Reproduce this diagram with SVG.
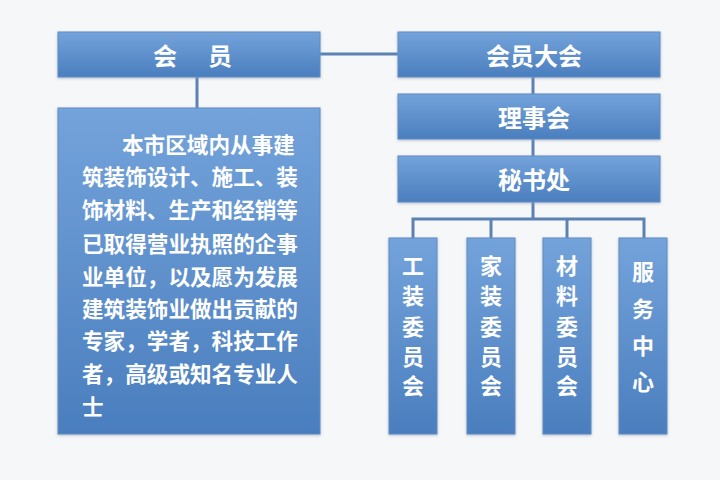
<svg xmlns="http://www.w3.org/2000/svg" width="720" height="480" viewBox="0 0 720 480">
<defs>
<linearGradient id="g" x1="0" y1="0" x2="0" y2="1">
<stop offset="0" stop-color="#74a3db"/>
<stop offset="1" stop-color="#4a7ebe"/>
</linearGradient>
<filter id="sh" x="-10%" y="-10%" width="120%" height="120%">
<feGaussianBlur in="SourceAlpha" stdDeviation="1.5"/>
<feOffset dx="0" dy="1" result="b"/>
<feFlood flood-color="#8a9ab0" flood-opacity="0.6"/>
<feComposite in2="b" operator="in"/>
<feMerge><feMergeNode/><feMergeNode in="SourceGraphic"/></feMerge>
</filter>
</defs>
<style>
.box{fill:url(#g);stroke:#5f8cc4;stroke-width:1;filter:url(#sh)}
.t{font-family:"Noto Sans CJK SC","Noto Sans CJK JP",sans-serif;font-weight:bold;fill:#ffffff;text-anchor:middle;dominant-baseline:central}
.h{font-size:24px}
.v{font-size:22px}
.d{font-family:"Noto Sans CJK SC","Noto Sans CJK JP",sans-serif;font-weight:bold;fill:#ffffff;font-size:21.6px;dominant-baseline:central}
.c{stroke:#5b82b3;stroke-width:3;fill:none}
</style>
<rect width="720" height="480" fill="#f6f7f9"/>
<g id="connectors">
<line class="c" x1="320" y1="54" x2="398" y2="54"/>
<line class="c" x1="197" y1="77" x2="197" y2="108"/>
<line class="c" x1="533" y1="77" x2="533" y2="94"/>
<line class="c" x1="533" y1="139" x2="533" y2="156"/>
<line class="c" x1="533" y1="202" x2="533" y2="219"/>
<polyline class="c" points="413,238 413,219 644,219 644,238"/>
<line class="c" x1="491" y1="219" x2="491" y2="238"/>
<line class="c" x1="567" y1="219" x2="567" y2="238"/>
</g>
<g id="member">
<rect class="box" x="58" y="32" width="262" height="45"/>
<text class="t h" x="165" y="54">会</text>
<text class="t h" x="220" y="54">员</text>
</g>
<g id="member-desc">
<rect class="box" x="58" y="108" width="262" height="326"/>
<text class="d" x="122" y="143">本市区域内从事建</text>
<text class="d" x="82" y="175">筑装饰设计、施工、装</text>
<text class="d" x="82" y="208">饰材料、生产和经销等</text>
<text class="d" x="82" y="242">已取得营业执照的企事</text>
<text class="d" x="82" y="275">业单位，以及愿为发展</text>
<text class="d" x="82" y="307">建筑装饰业做出贡献的</text>
<text class="d" x="82" y="339">专家，学者，科技工作</text>
<text class="d" x="82" y="372">者，高级或知名专业人</text>
<text class="d" x="82" y="405">士</text>
</g>
<g id="assembly">
<rect class="box" x="398" y="32" width="262" height="45"/>
<text class="t h" x="534" y="54">会员大会</text>
</g>
<g id="council">
<rect class="box" x="398" y="94" width="262" height="45"/>
<text class="t h" x="534" y="116">理事会</text>
</g>
<g id="secretariat">
<rect class="box" x="398" y="156" width="262" height="46"/>
<text class="t h" x="534" y="178">秘书处</text>
</g>
<g id="gongzhuang">
<rect class="box" x="389" y="238" width="48" height="196"/>
<text class="t v"><tspan x="413" y="264">工</tspan><tspan x="413" y="294">装</tspan><tspan x="413" y="325">委</tspan><tspan x="413" y="355">员</tspan><tspan x="413" y="384">会</tspan></text>
</g>
<g id="jiazhuang">
<rect class="box" x="467" y="238" width="48" height="196"/>
<text class="t v"><tspan x="491" y="264">家</tspan><tspan x="491" y="294">装</tspan><tspan x="491" y="325">委</tspan><tspan x="491" y="355">员</tspan><tspan x="491" y="384">会</tspan></text>
</g>
<g id="cailiao">
<rect class="box" x="543" y="238" width="48" height="196"/>
<text class="t v"><tspan x="567" y="264">材</tspan><tspan x="567" y="294">料</tspan><tspan x="567" y="325">委</tspan><tspan x="567" y="355">员</tspan><tspan x="567" y="384">会</tspan></text>
</g>
<g id="fuwu">
<rect class="box" x="619" y="238" width="48" height="196"/>
<text class="t v"><tspan x="643" y="270">服</tspan><tspan x="643" y="307">务</tspan><tspan x="643" y="344">中</tspan><tspan x="643" y="380">心</tspan></text>
</g>
</svg>
